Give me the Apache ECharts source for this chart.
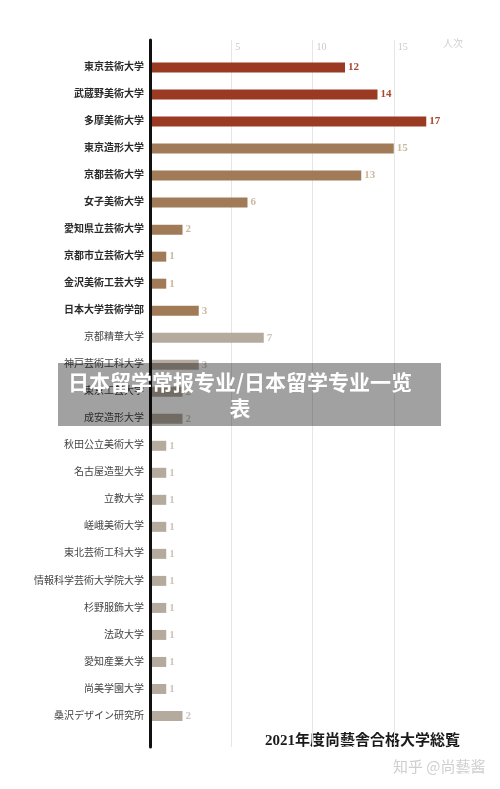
<!DOCTYPE html>
<html>
<head>
<meta charset="utf-8">
<script src="https://cdn.jsdelivr.net/npm/echarts@6/dist/echarts.min.js"></script>
<style>
html,body{margin:0;padding:0;background:#fff;}
#c{width:500px;height:789px;}
</style>
</head>
<body>
<div id="c"></div>
<script>
const categories = ["東京芸術大学","武蔵野美術大学","多摩美術大学","東京造形大学","京都芸術大学","女子美術大学","愛知県立芸術大学","京都市立芸術大学","金沢美術工芸大学","日本大学芸術学部","京都精華大学","神戸芸術工科大学","東京工芸大学","成安造形大学","秋田公立美術大学","名古屋造型大学","立教大学","嵯峨美術大学","東北芸術工科大学","情報科学芸術大学院大学","杉野服飾大学","法政大学","愛知産業大学","尚美学園大学","桑沢デザイン研究所"];
const values = [12,14,17,15,13,6,2,1,1,3,7,3,2,2,1,1,1,1,1,1,1,1,1,1,2];
const tiers = [0,0,0,1,1,1,1,1,1,1,2,2,2,2,2,2,2,2,2,2,2,2,2,2,2];
const xTicks = [5,10,15];
const unitLabel = "人次";
const chartTitle = "2021年度尚藝舎合格大学総覧";
const watermark = "知乎 @尚藝酱";
const bannerText = "日本留学常报专业/日本留学专业一览\n表";

const barColors = ["#9a3a23","#a17b57","#b5aa9e"];
const labelColors = ["#a9472f","#cbb89e","#cdc5bc"];
const serif = "'Liberation Serif','DejaVu Serif','Noto Sans CJK JP'";

const chart = echarts.init(document.getElementById('c'));
chart.setOption({
  animation:false,
  backgroundColor:'#fff',
  grid:[
    {left:150,right:25,top:40,bottom:42},
    {left:150,right:25,top:54,bottom:59.5}
  ],
  xAxis:[
    {type:'value',gridIndex:0,min:0,max:20,interval:5,position:'top',
     axisLine:{show:false},axisTick:{show:false},
     axisLabel:{inside:true,margin:2,verticalAlign:'top',align:'left',padding:[0,0,0,4],
       color:'#c9c9c9',fontSize:10,fontFamily:serif,
       formatter:v=>xTicks.indexOf(v)>=0?String(v):''},
     splitLine:{show:true,showMinLine:false,showMaxLine:false,lineStyle:{color:'#e6e6e6',width:1}}},
    {type:'value',gridIndex:1,min:0,max:20,show:false}
  ],
  yAxis:[
    {type:'value',gridIndex:0,min:0,max:1,z:10,
     axisLine:{show:true,onZero:false,lineStyle:{color:'#111',width:3}},
     axisTick:{show:false},axisLabel:{show:false},splitLine:{show:false}},
    {type:'category',gridIndex:1,data:categories,inverse:true,
     axisLine:{show:false},axisTick:{show:false},splitLine:{show:false},
     axisLabel:{margin:6,fontSize:10,fontFamily:serif,
       formatter:(v,i)=>(tiers[i]<2?'{b|'+v+'}':'{n|'+v+'}'),
       rich:{b:{fontWeight:'bold',color:'#2a2a2a',fontSize:10,fontFamily:serif},
             n:{color:'#444',fontSize:10,fontFamily:serif}}}}
  ],
  series:[{
    type:'bar',xAxisIndex:1,yAxisIndex:1,barWidth:10,
    data:values.map((v,i)=>({value:v,itemStyle:{color:barColors[tiers[i]]},
      label:{color:labelColors[tiers[i]]}})),
    label:{show:true,position:'right',distance:3,fontSize:11,fontWeight:'bold',fontFamily:serif,padding:[3,0,0,0]}
  }],
  graphic:[
    {type:'text',left:443,top:38,style:{text:unitLabel,fill:'#cfcfcf',font:"10px 'Noto Sans CJK JP'"}},
    {type:'text',left:265,top:734,style:{text:chartTitle,fill:'#1a1a1a',
      font:"bold 15px 'Liberation Serif','Noto Sans CJK JP'"}},
    {type:'text',left:393,top:759,style:{text:watermark,fill:'#cfcfcf',
      font:"15px 'Noto Sans CJK SC'"}},
    {type:'rect',z:100,shape:{x:58,y:363,width:383,height:63},style:{fill:'rgba(0,0,0,0.37)'}},
    {type:'text',z:101,x:240,y:369,style:{text:bannerText,fill:'#fff',align:'center',
      lineHeight:26,font:"bold 21px 'Noto Sans CJK SC'"}}
  ]
});
</script>
</body>
</html>
